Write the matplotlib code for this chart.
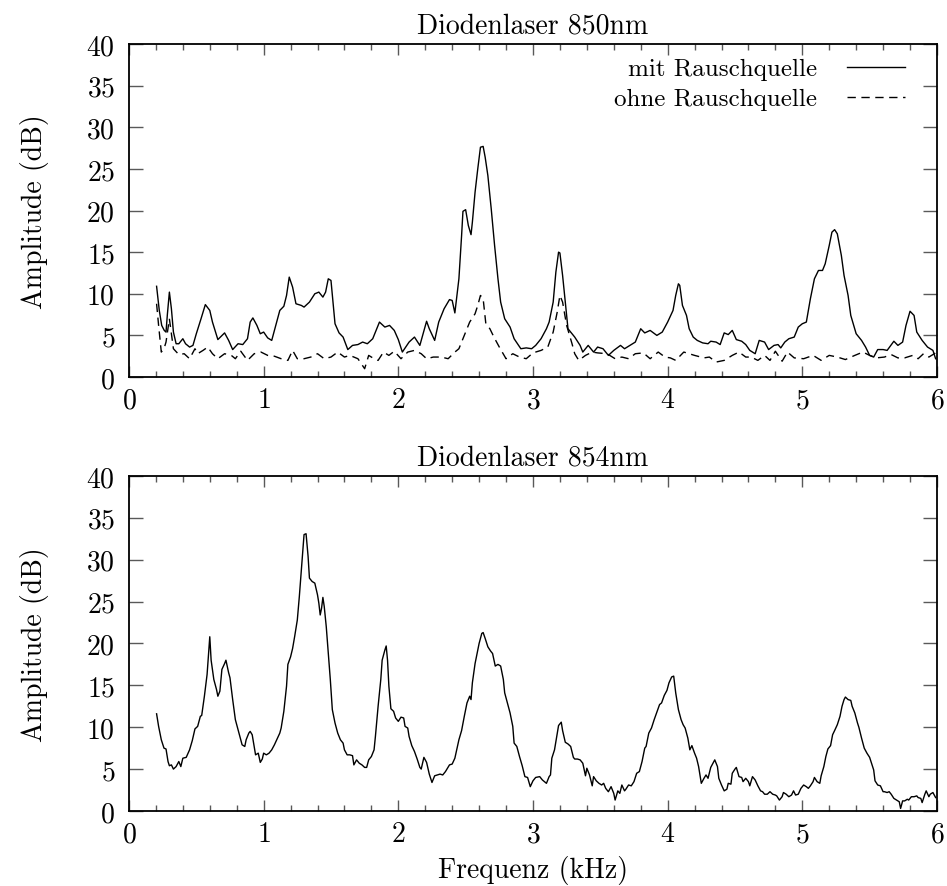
import matplotlib
matplotlib.use('Agg')
import numpy as np
import matplotlib.pyplot as plt
from matplotlib.ticker import MultipleLocator

# Diodenlaser 850nm, mit Rauschquelle
top_mit_x = [0.205, 0.225, 0.243, 0.262, 0.275, 0.285, 0.30, 0.315, 0.33, 0.35, 0.37, 0.40, 0.42, 0.45,
             0.475, 0.50, 0.535, 0.567, 0.60, 0.62, 0.66, 0.71, 0.74, 0.77, 0.81, 0.845, 0.88, 0.90,
             0.92, 0.95, 0.975, 1.0, 1.03, 1.06, 1.09, 1.12, 1.15, 1.17, 1.19, 1.215, 1.24, 1.28,
             1.30, 1.34, 1.38, 1.41, 1.44, 1.46, 1.48, 1.50, 1.53, 1.56, 1.59, 1.625, 1.66, 1.70,
             1.735, 1.77, 1.81, 1.86, 1.90, 1.935, 1.97, 2.0, 2.03, 2.08, 2.12, 2.16, 2.21, 2.23,
             2.27, 2.30, 2.34, 2.38, 2.40, 2.42, 2.45, 2.47, 2.48, 2.50, 2.52, 2.54, 2.55, 2.57,
             2.59, 2.61, 2.63, 2.645, 2.665, 2.69, 2.715, 2.74, 2.76, 2.79, 2.83, 2.86, 2.91, 2.95,
             2.99, 3.02, 3.06, 3.10, 3.12, 3.15, 3.17, 3.19, 3.20, 3.22, 3.24, 3.26, 3.29, 3.31,
             3.35, 3.37, 3.41, 3.45, 3.48, 3.52, 3.56, 3.60, 3.65, 3.68, 3.72, 3.76, 3.80, 3.83,
             3.87, 3.92, 3.96, 4.0, 4.04, 4.06, 4.08, 4.09, 4.11, 4.14, 4.16, 4.19, 4.22, 4.26,
             4.30, 4.32, 4.36, 4.39, 4.42, 4.45, 4.48, 4.51, 4.55, 4.58, 4.61, 4.65, 4.68, 4.72,
             4.75, 4.79, 4.82, 4.84, 4.87, 4.90, 4.94, 4.97, 5.0, 5.03, 5.06, 5.09, 5.12, 5.15,
             5.17, 5.20, 5.22, 5.24, 5.26, 5.29, 5.31, 5.34, 5.36, 5.40, 5.44, 5.47, 5.50, 5.53,
             5.56, 5.60, 5.63, 5.68, 5.71, 5.745, 5.77, 5.80, 5.83, 5.85, 5.89, 5.93, 5.97, 5.99]
top_mit_y = [10.9, 8.0, 6.2, 5.6, 5.4, 7.5, 10.2, 8.2, 5.4, 4.0, 4.0, 4.6, 4.0, 3.6,
             3.8, 5.2, 7.0, 8.7, 8.0, 6.6, 4.5, 5.3, 4.4, 3.3, 4.0, 3.9, 4.6, 6.6,
             7.1, 6.2, 5.2, 5.4, 4.7, 4.4, 6.2, 8.0, 8.5, 9.8, 12.0, 10.8, 8.8, 8.6,
             8.4, 9.0, 10.0, 10.2, 9.6, 10.2, 11.8, 11.6, 6.4, 5.3, 4.8, 3.3, 3.8, 3.9,
             4.2, 4.0, 4.6, 6.6, 6.0, 6.2, 5.6, 4.5, 3.0, 4.2, 4.8, 3.8, 6.7, 5.8,
             4.4, 6.6, 8.2, 9.3, 9.2, 7.7, 11.8, 17.0, 19.9, 20.1, 18.2, 17.1, 18.6, 22.2,
             25.0, 27.6, 27.7, 26.4, 24.2, 20.2, 15.8, 11.8, 9.0, 7.0, 6.0, 4.6, 3.4, 3.5,
             3.4, 3.8, 4.6, 5.8, 6.6, 9.0, 12.6, 15.0, 14.9, 12.2, 9.0, 5.8, 5.2, 4.8,
             3.8, 3.0, 3.8, 3.0, 3.6, 3.4, 2.6, 3.2, 3.8, 3.4, 3.8, 4.2, 5.8, 5.3,
             5.6, 5.0, 5.4, 6.6, 8.0, 9.8, 11.2, 11.0, 8.6, 7.4, 5.8, 4.8, 4.4, 4.1,
             4.0, 4.3, 4.2, 3.9, 5.3, 5.1, 5.6, 4.5, 4.3, 3.9, 3.2, 2.8, 4.4, 4.2,
             3.3, 3.8, 3.9, 3.5, 4.2, 4.6, 4.8, 6.0, 6.4, 6.6, 9.4, 11.8, 12.8, 12.8,
             13.6, 15.8, 17.4, 17.7, 17.2, 14.6, 12.2, 9.8, 7.4, 5.2, 4.4, 3.6, 2.6, 2.4,
             3.3, 3.3, 3.2, 4.3, 3.8, 4.2, 6.2, 7.9, 7.4, 5.4, 4.4, 3.6, 3.2, 2.2]

# Diodenlaser 850nm, ohne Rauschquelle
top_ohne_x = [0.205, 0.22, 0.24, 0.26, 0.275, 0.30, 0.33, 0.37, 0.41, 0.45, 0.49, 0.51, 0.55, 0.585,
              0.62, 0.66, 0.71, 0.76, 0.79, 0.83, 0.88, 0.93, 0.98, 1.03, 1.08, 1.13, 1.18, 1.215,
              1.25, 1.30, 1.35, 1.40, 1.45, 1.50, 1.55, 1.60, 1.64, 1.70, 1.75, 1.78, 1.82, 1.85,
              1.89, 1.93, 1.97, 2.02, 2.07, 2.12, 2.17, 2.21, 2.26, 2.32, 2.37, 2.42, 2.45, 2.49,
              2.53, 2.57, 2.59, 2.61, 2.63, 2.65, 2.68, 2.71, 2.75, 2.80, 2.85, 2.90, 2.95, 3.0,
              3.06, 3.11, 3.15, 3.18, 3.20, 3.22, 3.25, 3.29, 3.31, 3.34, 3.39, 3.44, 3.48, 3.55,
              3.61, 3.66, 3.71, 3.76, 3.82, 3.87, 3.93, 3.98, 4.02, 4.06, 4.12, 4.20, 4.27, 4.31,
              4.36, 4.42, 4.48, 4.53, 4.58, 4.62, 4.67, 4.72, 4.76, 4.80, 4.85, 4.89, 4.94, 5.01,
              5.08, 5.14, 5.20, 5.26, 5.32, 5.39, 5.45, 5.50, 5.55, 5.61, 5.66, 5.71, 5.76, 5.82,
              5.86, 5.90, 5.94, 5.99]
top_ohne_y = [8.8, 6.2, 3.0, 3.4, 4.2, 7.0, 3.4, 2.7, 2.8, 2.2, 3.4, 2.8, 3.2, 3.6,
              2.8, 2.2, 2.8, 2.6, 2.2, 3.1, 2.0, 2.8, 3.0, 2.6, 2.5, 2.2, 2.0, 3.2,
              2.2, 2.2, 2.4, 2.8, 2.2, 2.4, 3.0, 2.4, 2.6, 2.2, 1.0, 2.6, 2.2, 2.0,
              3.0, 2.6, 3.1, 2.2, 3.0, 3.2, 2.8, 2.2, 2.4, 2.4, 2.2, 3.0, 3.4, 5.0,
              6.6, 7.6, 8.6, 9.8, 9.4, 6.4, 5.8, 4.8, 3.6, 2.2, 2.8, 2.4, 2.2, 2.9,
              3.2, 3.6, 5.4, 7.8, 9.8, 9.0, 6.2, 4.0, 2.8, 2.0, 2.6, 3.0, 2.9, 2.8,
              2.2, 2.4, 2.2, 2.8, 2.9, 2.2, 3.0, 2.4, 2.3, 2.0, 3.0, 2.6, 2.3, 2.4,
              1.8, 2.0, 2.6, 3.0, 2.4, 2.4, 2.0, 2.6, 2.0, 3.1, 1.9, 3.0, 2.3, 2.2,
              2.6, 2.0, 2.6, 2.4, 2.1, 2.6, 3.0, 2.6, 2.3, 2.4, 2.7, 2.3, 2.3, 2.6,
              2.2, 2.8, 2.4, 2.9]

# Diodenlaser 854nm
bottom_x = [0.205, 0.22, 0.24, 0.26, 0.275, 0.29, 0.30, 0.315, 0.33, 0.35, 0.37, 0.385, 0.40, 0.425,
            0.45, 0.47, 0.49, 0.51, 0.53, 0.54, 0.56, 0.58, 0.60, 0.61, 0.63, 0.65, 0.66, 0.675,
            0.69, 0.71, 0.72, 0.74, 0.75, 0.77, 0.79, 0.81, 0.83, 0.84, 0.86, 0.87, 0.89, 0.90,
            0.915, 0.93, 0.94, 0.96, 0.975, 0.99, 1.0, 1.02, 1.04, 1.06, 1.08, 1.10, 1.12, 1.13,
            1.15, 1.17, 1.18, 1.20, 1.215, 1.23, 1.25, 1.265, 1.28, 1.30, 1.315, 1.33, 1.34, 1.36,
            1.38, 1.40, 1.41, 1.42, 1.43, 1.44, 1.45, 1.465, 1.48, 1.495, 1.51, 1.53, 1.55, 1.57,
            1.59, 1.60, 1.62, 1.64, 1.66, 1.67, 1.69, 1.71, 1.73, 1.75, 1.765, 1.78, 1.80, 1.82,
            1.83, 1.85, 1.87, 1.88, 1.90, 1.91, 1.92, 1.93, 1.945, 1.965, 1.98, 2.0, 2.02, 2.04,
            2.05, 2.07, 2.08, 2.10, 2.12, 2.14, 2.16, 2.17, 2.19, 2.21, 2.23, 2.25, 2.27, 2.29,
            2.31, 2.33, 2.35, 2.38, 2.40, 2.42, 2.45, 2.47, 2.49, 2.51, 2.53, 2.54, 2.55, 2.57,
            2.585, 2.60, 2.62, 2.63, 2.645, 2.665, 2.685, 2.70, 2.72, 2.74, 2.76, 2.78, 2.79, 2.81,
            2.83, 2.85, 2.86, 2.88, 2.90, 2.92, 2.94, 2.96, 2.98, 3.0, 3.02, 3.05, 3.07, 3.10,
            3.12, 3.13, 3.14, 3.16, 3.18, 3.19, 3.21, 3.22, 3.24, 3.26, 3.28, 3.30, 3.31, 3.33,
            3.35, 3.37, 3.39, 3.40, 3.42, 3.44, 3.45, 3.47, 3.49, 3.51, 3.525, 3.54, 3.56, 3.58,
            3.60, 3.61, 3.63, 3.645, 3.66, 3.68, 3.69, 3.71, 3.73, 3.75, 3.77, 3.79, 3.81, 3.83,
            3.84, 3.86, 3.88, 3.90, 3.92, 3.94, 3.955, 3.975, 3.995, 4.01, 4.03, 4.045, 4.06, 4.08,
            4.10, 4.115, 4.13, 4.15, 4.165, 4.18, 4.20, 4.215, 4.23, 4.25, 4.27, 4.285, 4.30, 4.32,
            4.33, 4.35, 4.37, 4.38, 4.40, 4.42, 4.44, 4.45, 4.47, 4.48, 4.50, 4.51, 4.53, 4.55,
            4.56, 4.58, 4.60, 4.61, 4.63, 4.65, 4.67, 4.69, 4.705, 4.72, 4.74, 4.76, 4.78, 4.80,
            4.81, 4.83, 4.85, 4.86, 4.88, 4.90, 4.92, 4.935, 4.95, 4.97, 4.99, 5.01, 5.03, 5.045,
            5.06, 5.08, 5.09, 5.11, 5.13, 5.14, 5.16, 5.175, 5.19, 5.21, 5.225, 5.24, 5.26, 5.28,
            5.295, 5.31, 5.32, 5.34, 5.36, 5.37, 5.39, 5.41, 5.42, 5.44, 5.46, 5.48, 5.50, 5.51,
            5.53, 5.54, 5.56, 5.58, 5.60, 5.61, 5.63, 5.645, 5.66, 5.68, 5.70, 5.72, 5.73, 5.745,
            5.76, 5.78, 5.79, 5.81, 5.83, 5.85, 5.86, 5.88, 5.89, 5.91, 5.92, 5.94, 5.95, 5.97,
            5.99]
bottom_y = [11.6, 10.1, 8.5, 7.5, 7.4, 5.9, 5.4, 5.5, 5.0, 5.3, 5.9, 5.3, 6.3, 6.4,
            7.3, 8.4, 9.8, 10.1, 11.3, 11.4, 13.7, 16.3, 20.8, 18.0, 15.7, 14.5, 13.7, 14.3,
            16.9, 17.6, 18.0, 16.5, 15.9, 13.3, 10.9, 9.7, 8.5, 7.9, 7.7, 8.5, 9.3, 9.5,
            9.1, 7.7, 6.7, 6.9, 5.8, 6.2, 6.9, 6.7, 6.9, 7.3, 7.9, 8.6, 9.3, 9.9,
            11.9, 14.9, 17.5, 18.4, 19.4, 20.8, 22.8, 25.6, 28.8, 33.0, 33.1, 30.4, 27.8, 27.4,
            27.2, 25.8, 24.8, 23.4, 24.2, 25.5, 24.4, 22.0, 18.8, 15.7, 12.1, 10.5, 9.3, 8.5,
            8.1, 7.3, 6.7, 6.7, 6.6, 5.5, 6.1, 5.7, 5.5, 5.2, 5.2, 6.1, 6.5, 7.3,
            8.9, 12.5, 15.7, 18.0, 19.2, 19.7, 18.0, 14.9, 12.2, 11.9, 11.1, 10.7, 11.2, 11.1,
            10.1, 9.9, 8.9, 7.8, 7.1, 6.2, 5.2, 5.0, 6.4, 5.8, 4.4, 3.4, 4.2, 4.3,
            4.4, 4.3, 4.7, 5.5, 5.6, 6.3, 8.5, 9.6, 11.3, 12.9, 13.7, 13.3, 15.3, 17.6,
            18.8, 20.0, 21.2, 21.3, 20.6, 19.6, 19.1, 18.8, 17.3, 17.5, 17.3, 15.7, 14.1, 12.9,
            11.7, 10.1, 8.1, 7.7, 6.5, 5.4, 4.1, 4.0, 2.9, 3.6, 4.0, 4.1, 3.7, 3.3,
            4.1, 4.3, 6.3, 7.3, 9.2, 10.2, 10.6, 9.6, 8.2, 8.0, 7.7, 6.4, 6.2, 6.2,
            6.1, 5.7, 4.2, 5.1, 4.3, 3.0, 4.1, 3.6, 3.3, 3.1, 3.3, 2.7, 2.3, 2.9,
            2.1, 1.3, 2.4, 2.1, 3.1, 2.4, 2.6, 3.1, 3.0, 3.5, 4.5, 4.7, 5.9, 7.5,
            7.7, 9.3, 9.9, 10.9, 11.8, 12.7, 12.9, 13.8, 14.4, 15.3, 16.0, 16.1, 14.1, 12.1,
            10.9, 10.3, 9.9, 8.7, 7.3, 7.8, 6.9, 6.3, 5.3, 3.3, 3.9, 4.3, 3.9, 5.2,
            5.5, 6.1, 5.3, 3.9, 3.1, 2.4, 2.6, 3.3, 3.2, 4.5, 5.0, 5.2, 4.1, 4.0,
            3.5, 3.9, 3.5, 3.0, 4.1, 3.7, 3.0, 2.4, 2.3, 2.0, 2.0, 2.3, 2.0, 1.9,
            1.8, 1.3, 1.7, 2.2, 2.0, 1.7, 1.9, 2.4, 1.9, 2.0, 2.7, 3.1, 2.9, 2.7,
            3.0, 3.5, 4.0, 3.5, 3.3, 4.2, 5.3, 6.5, 7.4, 7.8, 9.1, 9.6, 10.3, 11.3,
            12.5, 13.3, 13.6, 13.3, 13.2, 12.5, 11.7, 10.5, 10.0, 8.7, 7.5, 6.9, 6.4, 5.9,
            4.9, 3.6, 3.1, 3.0, 2.3, 2.3, 2.2, 2.3, 2.0, 1.5, 1.3, 1.1, 0.3, 1.2,
            1.2, 1.4, 1.3, 1.7, 1.7, 1.8, 1.6, 1.5, 1.0, 2.0, 2.4, 1.7, 2.0, 2.2,
            1.6]

x_ticks = [0, 1, 2, 3, 4, 5, 6]
y_ticks = [0, 5, 10, 15, 20, 25, 30, 35, 40]

plt.rcParams['font.family'] = ['cmr10', 'DejaVu Serif']
plt.rcParams['axes.formatter.use_mathtext'] = True
plt.rcParams['font.size'] = 20


def style_axes(ax, title):
    ax.set_xlim(0, 6)
    ax.set_ylim(0, 40)
    ax.set_xticks(x_ticks)
    ax.set_yticks(y_ticks)
    ax.xaxis.set_minor_locator(MultipleLocator(0.2))
    ax.tick_params(axis='both', which='both', direction='in', top=True, right=True,
                   color='0.35', width=1.0, labelsize=20)
    ax.tick_params(axis='x', which='major', length=8, pad=7)
    ax.tick_params(axis='x', which='minor', length=4)
    ax.tick_params(axis='y', which='major', length=10, pad=10)
    for s in ax.spines.values():
        s.set_linewidth(1.3)
    ax.set_ylabel('Amplitude (dB)', fontsize=20, labelpad=27)
    ax.set_title(title, fontsize=20, pad=8)


def main():
    fig = plt.figure(figsize=(9.47, 8.87), dpi=100)
    ax1 = fig.add_axes([0.1362, 0.5738, 0.8532, 0.3755])
    ax2 = fig.add_axes([0.1362, 0.0846, 0.8532, 0.3777])

    ax1.plot(top_mit_x, top_mit_y, color='black', lw=1.0, label='mit Rauschquelle')
    ax1.plot(top_ohne_x, top_ohne_y, color='black', lw=1.0, linestyle=(0, (6, 4)),
             label='ohne Rauschquelle')
    style_axes(ax1, 'Diodenlaser 850nm')
    ax1.legend(loc='upper right', bbox_to_anchor=(0.96, 0.958), frameon=False,
               markerfirst=False, fontsize=18, handlelength=2.3, handletextpad=1.2,
               labelspacing=0.3, borderaxespad=0, borderpad=0)

    ax2.plot(bottom_x, bottom_y, color='black', lw=1.0)
    style_axes(ax2, 'Diodenlaser 854nm')
    ax2.set_xlabel('Frequenz (kHz)', fontsize=20, labelpad=6)

    fig.savefig('out.png', dpi=100)


if __name__ == "__main__":
    main()
